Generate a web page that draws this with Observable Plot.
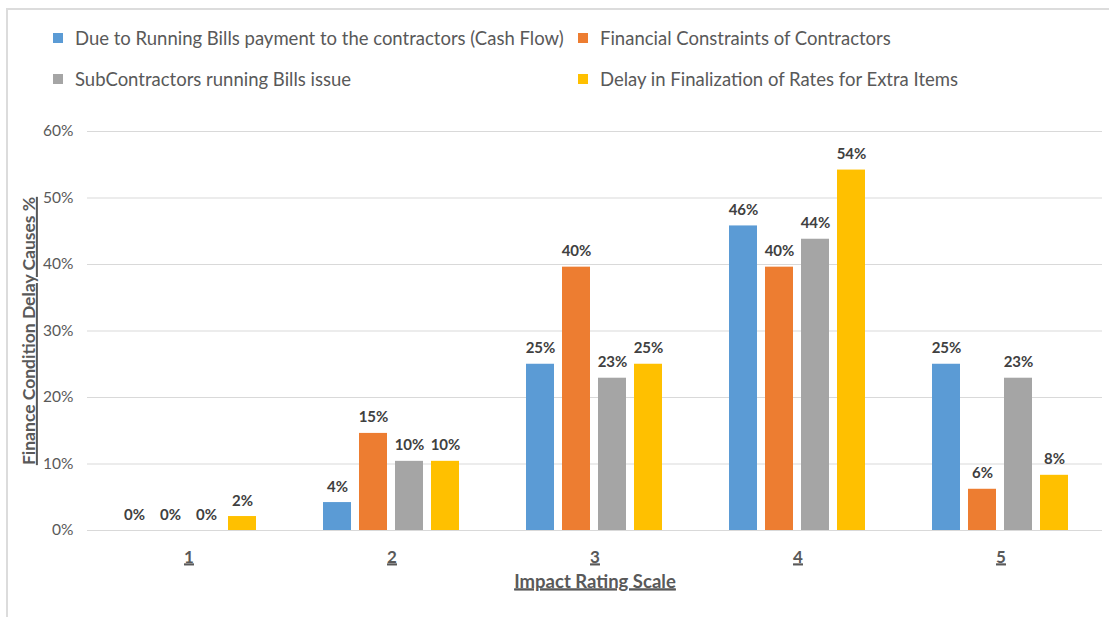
<!DOCTYPE html>
<html>
<head>
<meta charset="utf-8">
<script src="https://cdn.jsdelivr.net/npm/d3@7"></script>
<script src="https://cdn.jsdelivr.net/npm/@observablehq/plot@0.6"></script>
<style>
  html, body { margin: 0; padding: 0; background: #fff; }
  body { width: 1109px; height: 617px; position: relative; overflow: hidden; font-family: Lato, "Open Sans", sans-serif; }
  #frame { position: absolute; left: 6px; top: 8px; right: -10px; bottom: -10px; border-top: 2px solid #dcdcdc; border-left: 2px solid #dcdcdc; z-index: 2; pointer-events: none; }
  #legend { position: absolute; left: 0; top: 0; width: 1109px; height: 100px; }
  .item { position: absolute; display: flex; align-items: center; font-size: 18.5px; line-height: 20px; height: 20px; color: #595959; white-space: nowrap; }
  .sw { width: 10px; height: 10px; margin-right: 12px; flex: none; }
  #chart { position: absolute; left: 0; top: 100px; }
</style>
</head>
<body>
<div id="frame"></div>
<div id="legend"></div>
<div id="chart"></div>
<script>
const ratings = ["1", "2", "3", "4", "5"];
const seriesNames = [
  "Due to Running Bills payment to the contractors (Cash Flow)",
  "Financial Constraints of Contractors",
  "SubContractors running Bills issue",
  "Delay in Finalization of Rates for Extra Items"
];
const seriesColors = ["#5B9BD5", "#ED7D31", "#A5A5A5", "#FFC000"];
// percent values per rating 1..5
const cashFlow     = [0.0, 4.2, 25.0, 45.8, 25.0];
const financial    = [0.0, 14.6, 39.6, 39.6, 6.2];
const subContract  = [0.0, 10.4, 22.9, 43.8, 22.9];
const extraItems   = [2.1, 10.4, 25.0, 54.2, 8.3];
const yTicks = [0, 0.1, 0.2, 0.3, 0.4, 0.5, 0.6];

const seriesValues = [cashFlow, financial, subContract, extraItems];
const data = [];
ratings.forEach((r, i) => {
  seriesNames.forEach((s, j) => {
    data.push({rating: r, series: s, value: seriesValues[j][i] / 100});
  });
});

// legend
const legend = document.getElementById("legend");
const colLeft = [53, 578];
const rowTop = [28, 69];
seriesNames.forEach((s, j) => {
  const it = document.createElement("div");
  it.className = "item";
  it.style.left = colLeft[j % 2] + "px";
  it.style.top = rowTop[Math.floor(j / 2)] + "px";
  const sw = document.createElement("span");
  sw.className = "sw";
  sw.style.background = seriesColors[j];
  const tx = document.createElement("span");
  tx.textContent = s;
  it.appendChild(sw);
  it.appendChild(tx);
  legend.appendChild(it);
});

const chart = Plot.plot({
  width: 1109,
  height: 517,
  marginTop: 31,
  marginBottom: 87,
  marginLeft: 85,
  marginRight: 5,
  style: {fontFamily: "Lato, 'Open Sans', sans-serif", color: "#595959", background: "transparent"},
  fx: {domain: ratings, padding: 0, label: null},
  x: {domain: seriesNames, paddingInner: 0.21, paddingOuter: 0.874, axis: null},
  y: {domain: [0, 0.6], label: null},
  color: {domain: seriesNames, range: seriesColors},
  marks: [
    Plot.gridY(yTicks, {stroke: "#d9d9d9", strokeOpacity: 1, strokeWidth: 1}),
    Plot.axisY(yTicks, {tickSize: 0, tickPadding: 14, tickFormat: d3.format(".0%"), fontSize: 15.5,
      label: "Finance Condition Delay Causes %", labelAnchor: "center", labelArrow: "none", labelOffset: 65}),
    Plot.axisFx({anchor: "bottom", tickSize: 0, tickPadding: 20, fontSize: 17,
      label: "Impact Rating Scale", labelAnchor: "center", labelArrow: "none", labelOffset: 57}),
    Plot.barY(data, {fx: "rating", x: "series", y: "value", fill: "series"}),
    Plot.text(data, {fx: "rating", x: "series", y: "value", text: d => Math.round(d.value * 100) + "%",
      lineAnchor: "bottom", dy: -11, fontSize: 15, fontWeight: "bold", fill: "#404040"})
  ]
});
document.getElementById("chart").appendChild(chart);

const svg = d3.select(chart);
svg.selectAll("[aria-label='y-axis tick label'], [aria-label='y-axis tick label'] text")
  .style("font-size", "15.5px");
svg.selectAll("[aria-label='fx-axis tick label'], [aria-label='fx-axis tick label'] text")
  .style("text-decoration", "underline").style("font-weight", "bold").style("font-size", "17px");
svg.selectAll("[aria-label='fx-axis label'] text, [aria-label='fx-axis label']")
  .style("text-decoration", "underline").style("font-weight", "bold").style("font-size", "18.5px");
svg.selectAll("[aria-label='y-axis label'] text, [aria-label='y-axis label']")
  .style("text-decoration", "underline").style("font-weight", "bold").style("font-size", "17.5px");
</script>
</body>
</html>
